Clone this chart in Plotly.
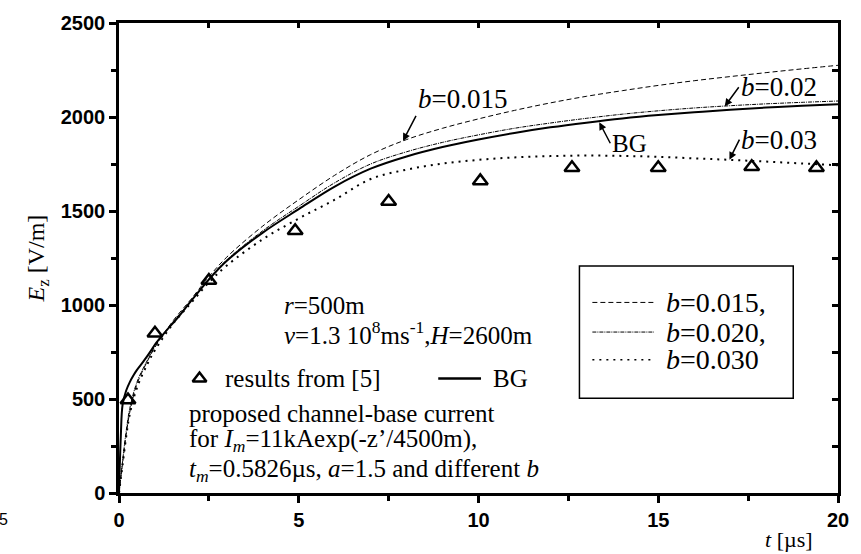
import plotly.graph_objects as go

# Vertical electric field E_z(t) at r = 500 m
t_bg = [0, 0.05, 0.1, 0.2, 0.3, 0.4, 0.5, 0.7, 0.9, 1.0, 1.3, 1.6, 2.0, 2.5, 3, 4, 5, 6, 7, 8, 9, 10,
        11, 12, 13, 14, 15, 16, 17, 18, 19, 20]
e_bg = [0, 300, 470, 545, 590, 625, 655, 705, 760, 790, 860, 925, 1020, 1135, 1235, 1385, 1510, 1630,
        1725, 1790, 1840, 1880, 1915, 1945, 1970, 1992, 2010, 2025, 2038, 2050, 2060, 2068]

t_b = [0, 0.1, 0.2, 0.3, 0.5, 0.8, 1, 1.5, 2, 2.5, 3, 4, 5, 6, 7, 8, 9, 10, 11, 12, 13, 14, 15, 16,
       17, 18, 19, 20]
e_b015 = [0, 160, 310, 430, 580, 705, 775, 915, 1030, 1150, 1255, 1420, 1560, 1690, 1800, 1880, 1940,
          1990, 2035, 2075, 2110, 2140, 2168, 2193, 2215, 2236, 2256, 2275]
e_b020 = [0, 170, 330, 450, 590, 710, 780, 910, 1020, 1140, 1240, 1395, 1525, 1650, 1750, 1815, 1865,
          1905, 1940, 1968, 1993, 2015, 2033, 2048, 2060, 2070, 2078, 2085]
e_b030 = [0, 150, 300, 420, 560, 690, 760, 900, 1010, 1120, 1210, 1350, 1460, 1560, 1670, 1720, 1752,
          1772, 1785, 1792, 1795, 1793, 1788, 1780, 1772, 1763, 1753, 1743]

# Reference results [5]
t_ref = [0.25, 1.0, 2.5, 4.9, 7.5, 10.05, 12.6, 15.0, 17.6, 19.4]
e_ref = [495, 850, 1130, 1395, 1550, 1660, 1730, 1730, 1735, 1730]

x_ticks = [0, 5, 10, 15, 20]
y_ticks = [0, 500, 1000, 1500, 2000, 2500]

SERIF = "Liberation Serif, Times New Roman, serif"
SANS = "Liberation Sans, Arial, sans-serif"

# plot-area pixel geometry (used for placing decorations in paper units)
L, R, T, B = 119, 842, 17, 493
W, H = 861, 554


def xp(px):
    return (px - L) / (R - L)


def yp(py):
    return (B - py) / (B - T)


fig = go.Figure()

fig.add_trace(go.Scatter(x=t_b, y=e_b015, mode="lines", line=dict(color="black", width=1, dash="5px,3px"),
                         line_shape="spline", showlegend=False))
fig.add_trace(go.Scatter(x=t_b, y=e_b020, mode="lines",
                         line=dict(color="black", width=1, dash="4px,1px,1px,1px"),
                         line_shape="spline", showlegend=False))
fig.add_trace(go.Scatter(x=t_b, y=e_b030, mode="lines", line=dict(color="black", width=2, dash="2px,5px"),
                         line_shape="spline", showlegend=False))
fig.add_trace(go.Scatter(x=t_bg, y=e_bg, mode="lines", line=dict(color="black", width=2),
                         line_shape="spline", showlegend=False))
fig.add_trace(go.Scatter(x=t_ref, y=e_ref, mode="markers",
                         marker=dict(symbol="triangle-up-open", size=13, color="black",
                                     line=dict(width=2.5, color="black")),
                         showlegend=False))

# secondary axes for the top / right frame with inward ticks
fig.add_trace(go.Scatter(x=[0], y=[0], xaxis="x2", yaxis="y2", mode="markers",
                         marker=dict(opacity=0), showlegend=False, hoverinfo="skip"))

axis_line = dict(showline=True, linecolor="black", linewidth=2.5, zeroline=False, showgrid=False)
tick_font = dict(family=SANS, size=20, color="black", weight="bold")

fig.update_layout(
    width=W, height=H,
    margin=dict(l=L, r=W - R, t=T, b=H - B),
    paper_bgcolor="white", plot_bgcolor="white",
    xaxis=dict(range=[0, 20], tickvals=x_ticks, ticktext=[str(v) for v in x_ticks],
               ticks="outside", ticklen=7, tickwidth=2.5, tickcolor="black",
               minor=dict(dtick=2.5, ticks="outside", ticklen=5, tickwidth=2.5, tickcolor="black"),
               tickfont=tick_font, **axis_line),
    yaxis=dict(range=[0, 2500], tickvals=y_ticks, ticktext=[str(v) for v in y_ticks],
               ticks="outside", ticklen=7, tickwidth=2.5, tickcolor="black",
               minor=dict(dtick=250, ticks="outside", ticklen=5, tickwidth=2.5, tickcolor="black"),
               tickfont=tick_font, **axis_line),
    xaxis2=dict(range=[0, 20], overlaying="x", side="top", dtick=2.5, ticks="inside", ticklen=5,
                tickwidth=2.5, tickcolor="black", showticklabels=False, **axis_line),
    yaxis2=dict(range=[0, 2500], overlaying="y", side="right", dtick=250, ticks="inside", ticklen=6,
                tickwidth=2.5, tickcolor="black", showticklabels=False, **axis_line),
)

ann = []


def txt(x, y, text, size=25, xanchor="left", xref="x", yref="y", font=SERIF, **kw):
    ann.append(dict(x=x, y=y, xref=xref, yref=yref, text=text, showarrow=False, xanchor=xanchor,
                    yanchor="middle", font=dict(family=font, size=size, color="black"), **kw))


# axis titles
txt(xp(793), yp(540), "<i>t</i> [µs]", size=22, xanchor="center", xref="paper", yref="paper")
ann.append(dict(x=xp(38), y=yp(255), xref="paper", yref="paper", text="<i>E</i><sub>z</sub> [V/m]",
                showarrow=False, textangle=-90, xanchor="center", yanchor="middle",
                font=dict(family=SERIF, size=24, color="black")))

# parameter block
txt(4.54, 998, "<i>r</i>=500m")
txt(4.54, 851, "<i>v</i>=1.3 10<sup>8</sup>ms<sup>-1</sup>,<i>H</i>=2600m")
txt(2.88, 609, "results from [5]")
txt(10.35, 609, "BG")
txt(1.88, 425, "proposed channel-base current")
txt(1.88, 278, "for <i>I</i><sub><i>m</i></sub>=11kAexp(-z’/4500m),")
txt(1.88, 121, "<i>t</i><sub><i>m</i></sub>=0.5826µs, <i>a</i>=1.5 and different <i>b</i>")


# curve labels with arrows
def tag(x, y, text, ax, ay, size=27, yanchor="middle"):
    ann.append(dict(x=x, y=y, xref="x", yref="y", text=text, showarrow=True, arrowhead=2, arrowsize=1,
                    arrowwidth=1.5, arrowcolor="black", ax=ax, ay=ay, xanchor="left", yanchor=yanchor,
                    font=dict(family=SERIF, size=size, color="black")))


tag(7.9, 1873, "<i>b</i>=0.015", 13, -25, yanchor="bottom")
tag(16.85, 2057, "<i>b</i>=0.02", 14, -19)
tag(16.98, 1773, "<i>b</i>=0.03", 10, -20)
tag(13.36, 1972, "BG", 11, 21, size=25)

# legend block text
txt(xp(667), yp(300), "<i>b</i>=0.015,", size=28, xref="paper", yref="paper")
txt(xp(667), yp(330), "<i>b</i>=0.020,", size=28, xref="paper", yref="paper")
txt(xp(667), yp(358), "<i>b</i>=0.030", size=28, xref="paper", yref="paper")

# figure number at the page edge
txt(xp(3), yp(520), "5", size=16, font=SANS, xanchor="center", xref="paper", yref="paper")

fig.update_layout(annotations=ann)

shapes = [
    dict(type="rect", xref="paper", yref="paper", x0=xp(582), x1=xp(797), y0=yp(263), y1=yp(397),
         line=dict(color="black", width=1.5), fillcolor="white", layer="above"),
    dict(type="line", xref="paper", yref="paper", x0=xp(595), x1=xp(657), y0=yp(300), y1=yp(300),
         line=dict(color="black", width=1, dash="5px,3px")),
    dict(type="line", xref="paper", yref="paper", x0=xp(595), x1=xp(657), y0=yp(330), y1=yp(330),
         line=dict(color="black", width=1, dash="4px,1px,1px,1px")),
    dict(type="line", xref="paper", yref="paper", x0=xp(595), x1=xp(657), y0=yp(358), y1=yp(358),
         line=dict(color="black", width=1.5, dash="2px,5px")),
    dict(type="line", xref="x", yref="y", x0=8.88, x1=10.07, y0=609, y1=609,
         line=dict(color="black", width=2.5)),
]
fig.update_layout(shapes=shapes)

# legend triangle for the reference results
fig.add_trace(go.Scatter(x=[2.24], y=[609], mode="markers",
                         marker=dict(symbol="triangle-up-open", size=12, color="black",
                                     line=dict(width=2.5, color="black")),
                         showlegend=False, cliponaxis=False))

fig.write_html("out.html")
